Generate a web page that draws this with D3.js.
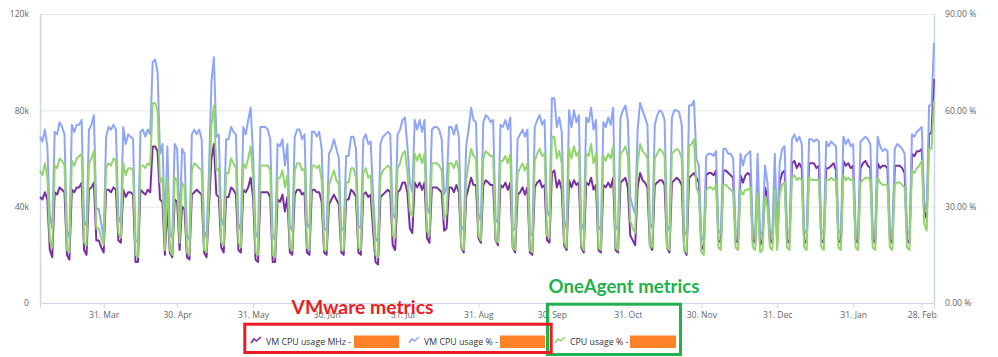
<!DOCTYPE html>
<html>
<head>
<meta charset="utf-8">
<script src="https://cdn.jsdelivr.net/npm/d3@7"></script>
<style>
  html, body { margin: 0; padding: 0; background: #ffffff; }
  svg { display: block; }
  .axis text { font-family: "Open Sans", "Noto Sans", sans-serif; font-size: 8.6px; fill: #666666; }
  .legend text { font-family: "Open Sans", "Noto Sans", sans-serif; font-size: 8.8px; fill: #333333; }
</style>
</head>
<body>
<svg id="chart" width="998" height="357"></svg>
<script>
// ---------------- DATA ----------------
// daily points starting at startDate
const startDate = "2020-03-05";
const endDate = "2021-03-05";

// VM CPU usage MHz (thousands of MHz, left axis)
const vmCpuMhzK = [
  44,43,46,43,22,19,46, 45,48,47,46,20,18,47, 46,48,48,50,22,20,47, 48,50,26,26,23,21,47,
  47,46,48,47,26,25,47, 44,46,46,45,17,17,47, 46,45,47,46,65,65,63, 43,42,20,41,21,19,43,
  42,22,40,39,19,18,45, 46,47,46,45,21,19,40, 60,66,45,44,23,21,44, 44,48,47,45,22,21,47,
  46,48,52,44,18,17,46, 46,46,46,44,17,17,43, 42,45,38,44,21,20,45, 47,47,45,46,21,20,47,
  47,46,46,42,21,20,41, 43,45,43,41,21,20,43, 43,47,46,44,21,20,45, 46,44,45,30,17,16,44,
  45,46,47,46,24,22,46, 47,50,50,46,31,29,50, 48,50,47,50,27,25,48, 48,48,47,46,30,31,48,
  48,46,49,46,23,21,44, 48,52,49,49,27,25,49, 51,50,49,49,26,24,49, 48,50,47,50,23,21,45,
  46,48,45,48,21,20,48, 50,51,48,49,26,25,54, 55,48,51,47,24,22,51, 48,51,49,50,23,21,50,
  49,52,47,49,22,21,49, 48,50,48,52,22,21,50, 51,52,48,28,26,24,48, 54,51,50,48,24,22,49,
  50,51,51,49,23,21,50, 51,52,51,49,22,20,52, 53,54,52,50,24,22,53, 54,54,53,55,26,25,55,
  55,54,53,52,26,25,53, 50,53,54,53,26,25,50, 24,26,48,44,26,25,50, 25,50,54,55,26,25,58,
  59,56,58,56,26,25,58, 58,58,56,57,26,25,56, 56,57,58,55,26,25,59, 57,58,56,57,26,25,56,
  58,59,57,56,26,25,58, 56,57,57,56,26,25,57, 57,57,56,54,26,25,62, 61,63,63,64,38,35,70,
  71,93
];

// VM CPU usage % (right axis)
const vmCpuPct = [
  51.8,50.3,54,48.8,27,23.3,53.3, 52.5,56.3,54.8,52.5,22.5,20.3,55.5, 53.3,55.5,55.5,57,25.5,24,54, 55.5,58.5,29.3,29.3,24.8,20.3,51.8,
  54.8,54,55.5,54,27,24.8,54.8, 49.5,52.5,51.8,51,19.5,18.8,53.3, 54,51.8,54,52.5,75,75.8,72, 46.5,49.5,23,48.8,21.8,20.3,49.5,
  48,24,48,46.5,21,19.5,52.5, 54,52.5,54,51,22.5,20.3,41.3, 69,76.5,51.8,52.5,26.3,24,51, 51,54.8,53.3,52.5,24.8,22.5,54.8,
  52.5,57,60.8,46.5,21.8,20.3,54.8, 54.8,54.8,54,51,21,19.5,49.5, 48.8,51,42.8,49.5,24,22.5,51.8, 54,54,51,52.5,24.8,23.3,53.3,
  53.3,51.8,53.3,48,23.3,22.5,46.5, 48,51,48,45,22.5,23.3,45.8, 45.8,51.8,51.8,48,24,23.3,51, 52.5,49.5,50.3,33.8,20.3,18.8,49.5,
  51.8,52.5,53.3,52.5,27.8,26.3,52.5, 54,57,57.8,48.8,37.5,34.5,57, 54,57,53.3,57,30,27.8,54, 54.8,54.8,54,51,33.8,36,54.8,
  54.8,52.5,55.5,51.8,24,22.5,48.8, 54,60.8,57,56.3,27.8,25.5,56.3, 58.5,57.8,56.3,57,26.3,24.8,55.5, 54.8,57,54,57.8,22.5,23.3,51,
  52.5,54,51.8,54,21.8,21,54.8, 57,58.5,55.5,57,28.5,27,63.8, 63.8,54.8,57.8,53.3,25.5,23.3,60, 54.8,60,56.3,58.5,24.8,22.5,57.8,
  56.3,60.8,54,57,24,22.5,56.3, 54.8,57.8,55.5,60.8,24,22.5,57.8, 60,61.5,57,33,30,27.8,54, 62.3,60,57.8,55.5,24.8,23.3,55.5,
  58.5,60,59.3,57,24,22.5,57.8, 60,60,59.3,55.5,22.5,21,61.5, 61.5,63,45,42.8,21,19.5,45.8, 46.5,46.5,45.8,47.3,22.5,21.8,48,
  48,46.5,46.5,45,22.5,21.8,46.5, 42.8,45.8,46.5,47.3,22.5,21.8,46.5, 21,22.5,42.8,37.5,22.5,21.8,46.5, 21.8,43.5,48,48.8,22.5,21.8,51,
  52.5,50.3,51.8,49.5,22.5,21.8,51, 51,50.3,51,50.3,22.5,21.8,50.3, 48.8,50.3,49.5,48.8,22.5,21.8,51.8, 49.5,51,48.8,49.5,22.5,21.8,50.3,
  51,51.8,51,49.5,22.5,21.8,51.8, 48.8,47.3,48,47.3,22.5,21.8,48, 49.5,48.8,48,46.5,22.5,21.8,52.5, 51.8,53.3,54,54.8,31.5,28.5,61.5,
  61.5,81
];

// OneAgent CPU usage % (right axis)
const agentCpuPct = [
  41.3,39.8,43.5,39,19.5,17.3,42.8, 42,45,44.3,42.8,16.5,15.8,44.3, 42.8,45,45.8,46.5,18.8,18,43.5, 45,47.3,23.3,23.3,20.3,18,42,
  43.5,42.8,45,44.3,21.8,20.3,43.5, 39.8,42,42,41.3,15,14.3,42.8, 42.8,42,43.5,42.8,62.3,62.3,60, 37.5,39,16.5,39,16.5,15,39,
  38.3,18.8,37.5,36,15.8,15,41.3, 43.5,42.8,42,41.3,16.5,15.8,33.8, 55.5,61.5,41.3,42,18.8,18,40.5, 40.5,45,43.5,42,18.8,17.3,43.5,
  42,45,48.8,39,15.8,15,42.8, 42.8,42.8,42.8,41.3,15,14.3,39, 39,41.3,36,39.8,17.3,16.5,41.3, 43.5,43.5,41.3,42,17.3,16.5,42.8,
  42.8,42,42.8,38.3,16.5,16.5,36.8, 39,41.3,38.3,36.8,16.5,16.5,37.5, 37.5,42,42,39,17.3,16.5,40.5, 42,39,39.8,27,15,14.3,39,
  41.3,42,42.8,42,21,20.3,42, 43.5,46.5,47.3,40.5,28.5,27,46.5, 44.3,46.5,43.5,46.5,22.5,21,43.5, 43.5,43.5,42.8,41.3,26.3,27.8,43.5,
  43.5,42,44.3,41.3,17.3,16.5,38.3, 43.5,48,45.8,45,21,19.5,45, 47.3,46.5,45.8,45.8,19.5,18.8,44.3, 44.3,45.8,43.5,46.5,17.3,16.5,40.5,
  42,43.5,41.3,43.5,16.5,15.8,44.3, 46.5,48,45.8,46.5,21,20.3,51.8, 51.8,45,47.3,43.5,18.8,17.3,48, 45,48.8,45.8,47.3,18,16.5,46.5,
  45.8,49.5,43.5,46.5,17.3,16.5,45.8, 44.3,46.5,45,48.8,17.3,16.5,46.5, 47.3,48.8,45.8,25.5,23.3,21.8,43.5, 49.5,47.3,46.5,45,18,17.3,45,
  46.5,48,47.3,45.8,17.3,16.5,46.5, 47.3,48,47.3,45,16.5,15.8,48.8, 49.5,51,36,33.8,15.8,15,35.3, 36,36,35.3,36.8,17.3,16.5,36.8,
  36.8,36,35.3,34.5,17.3,16.5,35.3, 33.8,35.3,35.3,36,17.3,16.5,34.5, 15.8,16.5,33,30,17.3,16.5,35.3, 16.5,33.8,36.8,37.5,17.3,16.5,39,
  39.8,38.3,39,38.3,17.3,16.5,39, 38.3,38.3,38.3,38.3,17.3,16.5,38.3, 38.3,39,38.3,38.3,17.3,16.5,39.8, 38.3,39,38.3,38.3,17.3,16.5,37.5,
  38.3,39,39,38.3,17.3,16.5,39, 37.5,36.8,36.8,36.8,17.3,16.5,36.8, 37.5,37.5,36.8,36,17.3,16.5,41.3, 40.5,42,42.8,44.3,24.8,22.5,48,
  48,63
];

const monthTicks = ["2020-03-31","2020-04-30","2020-05-31","2020-06-30","2020-07-31","2020-08-31",
                    "2020-09-30","2020-10-31","2020-11-30","2020-12-31","2021-01-31","2021-02-28"];
const leftTicks = [0, 40, 80, 120];
const leftTickLabels = ["0", "40k", "80k", "120k"];
const rightTicks = [0, 30, 60, 90];
const rightTickLabels = ["0.00 %", "30.00 %", "60.00 %", "90.00 %"];
const seriesNames = ["VM CPU usage MHz -", "VM CPU usage % -", "CPU usage % -"];
const seriesColors = ["#7a2fa2", "#8fa5f8", "#93d46f"];
const annotationLabels = ["VMware metrics", "OneAgent metrics"];

// ---------------- CHART ----------------
const svg = d3.select("#chart");
const M = { left: 40, right: 934, top: 14, bottom: 303 };
const parseUtc = s => { const p = s.split("-").map(Number); return new Date(Date.UTC(p[0], p[1]-1, p[2])); };
const t0 = parseUtc(startDate);

const x = d3.scaleUtc().domain([t0, parseUtc(endDate)]).range([M.left, M.right]);
const yL = d3.scaleLinear().domain([0, 120]).range([M.bottom, M.top]);
const yR = d3.scaleLinear().domain([0, 90]).range([M.bottom, M.top]);
const dayDate = i => new Date(t0.getTime() + i * 86400000);

// gridlines
svg.append("g").selectAll("line").data(leftTicks.filter(v => v > 0)).join("line")
  .attr("x1", M.left).attr("x2", M.right)
  .attr("y1", d => yL(d) + 0.5).attr("y2", d => yL(d) + 0.5)
  .attr("stroke", "#e6e6e6").attr("stroke-width", 1);

// left axis
const gL = svg.append("g").attr("class", "axis").attr("transform", `translate(${M.left},0)`)
  .call(d3.axisLeft(yL).tickValues(leftTicks).tickSize(0).tickPadding(11)
    .tickFormat((d, i) => leftTickLabels[i]));
gL.select(".domain").attr("stroke", "#ccd6eb").attr("stroke-width", 1.5);

// right axis
const gR = svg.append("g").attr("class", "axis").attr("transform", `translate(${M.right},0)`)
  .call(d3.axisRight(yR).tickValues(rightTicks).tickSize(0).tickPadding(11)
    .tickFormat((d, i) => rightTickLabels[i]));
gR.select(".domain").attr("stroke", "#ccd6eb").attr("stroke-width", 1.5);

// bottom axis
const gX = svg.append("g").attr("class", "axis").attr("transform", `translate(0,${M.bottom})`)
  .call(d3.axisBottom(x).tickValues(monthTicks.map(parseUtc)).tickSize(5).tickPadding(4)
    .tickFormat(d3.utcFormat("%d. %b")));
gX.select(".domain").attr("stroke", "#ccd6eb").attr("stroke-width", 1);
gX.selectAll(".tick line").attr("stroke", "#ccd6eb");
gR.selectAll(".tick line").remove();
gL.selectAll(".tick line").remove();

// series lines
const series = [
  { values: vmCpuMhzK, y: yL, color: seriesColors[0] },
  { values: vmCpuPct, y: yR, color: seriesColors[1] },
  { values: agentCpuPct, y: yR, color: seriesColors[2] }
];
series.forEach(s => {
  const line = d3.line().x((d, i) => x(dayDate(i))).y(d => s.y(d));
  svg.append("path").datum(s.values)
    .attr("d", line)
    .attr("fill", "none")
    .attr("stroke", s.color)
    .attr("stroke-width", 2)
    .attr("stroke-linejoin", "round");
});

// legend
const legendItems = [
  { icon: 251, text: 266, box: [354, 399] },
  { icon: 409, text: 424, box: [500, 545] },
  { icon: 555, text: 570, box: [630, 676] }
];
const lg = svg.append("g").attr("class", "legend");
legendItems.forEach((it, i) => {
  lg.append("path")
    .attr("d", `M${it.icon},${343} L${it.icon + 3},${339} L${it.icon + 5.5},${341} L${it.icon + 10},${337}`)
    .attr("fill", "none").attr("stroke", seriesColors[i]).attr("stroke-width", 1.6);
  lg.append("text").attr("x", it.text).attr("y", 345.2).text(seriesNames[i]);
  lg.append("rect").attr("x", it.box[0]).attr("y", 335.5)
    .attr("width", it.box[1] - it.box[0]).attr("height", 12.5).attr("fill", "#fd8126");
});

// annotation boxes and labels
svg.append("rect").attr("x", 547.5).attr("y", 304.2).attr("width", 133).attr("height", 50.3)
  .attr("fill", "none").attr("stroke", "#22b14c").attr("stroke-width", 3);
svg.append("rect").attr("x", 244.8).attr("y", 324.2).attr("width", 306.4).attr("height", 28.3)
  .attr("fill", "none").attr("stroke", "#ed1c24").attr("stroke-width", 3);

svg.append("text").attr("x", 291.5).attr("y", 313.5)
  .attr("font-family", "Lato, 'Open Sans', sans-serif").attr("font-weight", "bold")
  .attr("font-size", 18.5).attr("fill", "#ed1c24")
  .attr("textLength", 142).attr("lengthAdjust", "spacingAndGlyphs")
  .text(annotationLabels[0]);
svg.append("text").attr("x", 548.5).attr("y", 292.8)
  .attr("font-family", "Lato, 'Open Sans', sans-serif").attr("font-weight", "bold")
  .attr("font-size", 18).attr("fill", "#22b14c")
  .attr("textLength", 151).attr("lengthAdjust", "spacingAndGlyphs")
  .text(annotationLabels[1]);
</script>
</body>
</html>
